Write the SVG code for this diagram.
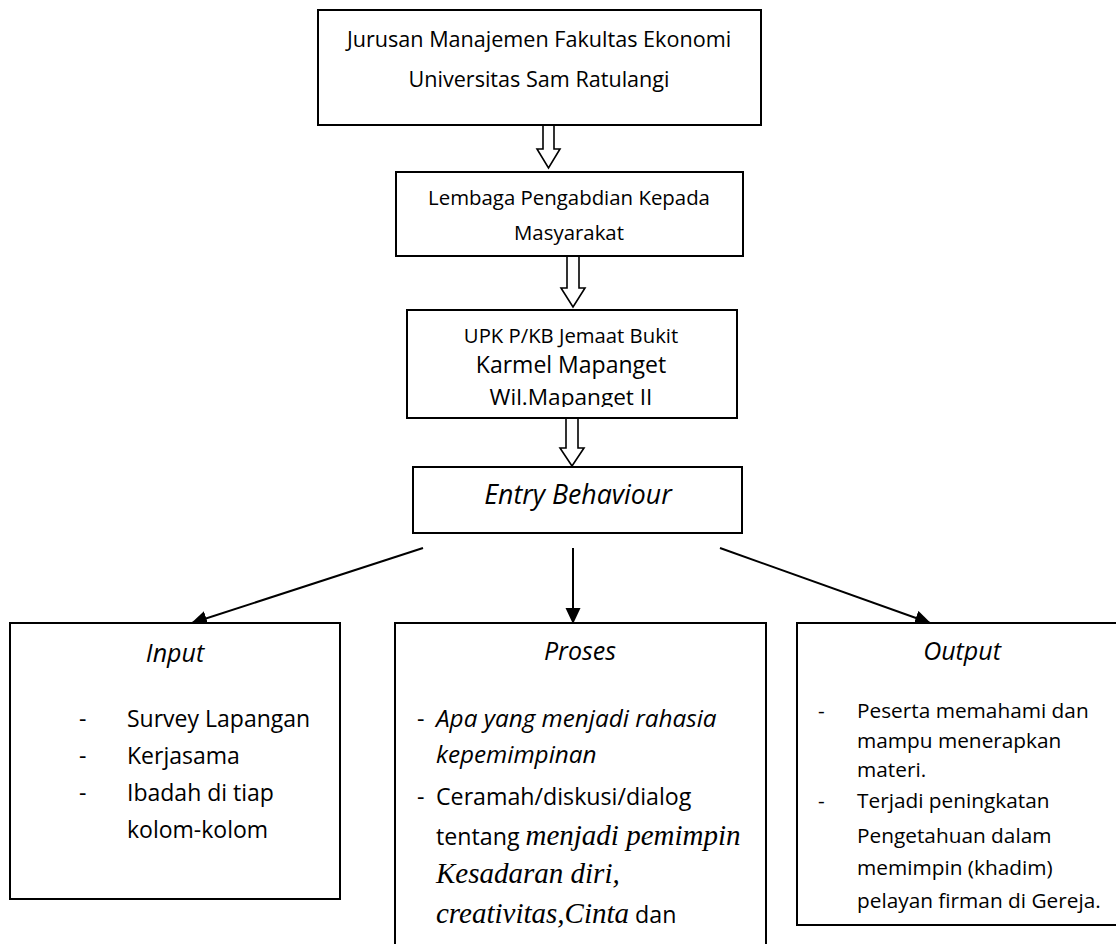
<svg xmlns="http://www.w3.org/2000/svg" width="1116" height="944" viewBox="0 0 1116 944">
<style>
.box{fill:#fff;stroke:#000;stroke-width:2}
.blk{fill:#fff;stroke:#000;stroke-width:1.6;stroke-linejoin:miter}
.ln{stroke:#000;stroke-width:2;fill:none}
.s{font-family:"Open Sans","Liberation Sans",sans-serif;fill:#000}
.i{font-style:italic}
.t{font-family:"Liberation Serif","Times New Roman",serif;font-style:italic;fill:#000}
.c{text-anchor:middle}
</style>
<defs>
<marker id="ah" markerUnits="userSpaceOnUse" markerWidth="16" markerHeight="16" viewBox="0 0 16 16" refX="15" refY="8" orient="auto">
<path d="M0,0.5 L16,8 L0,15.5 Z" fill="#000"/>
</marker>
<clipPath id="clipWil"><rect x="400" y="370" width="340" height="37"/></clipPath>
</defs>

<g id="connectors">
<polygon class="blk" points="543,125 554,125 554,149 560,149 548.5,168 537,149 543,149"/>
<polygon class="blk" points="567,256 579,256 579,288 585,288 573,307 561,288 567,288"/>
<polygon class="blk" points="566,418 578,418 578,448 584,448 572,466 560,448 566,448"/>
<line class="ln" x1="423" y1="548" x2="192" y2="623" marker-end="url(#ah)"/>
<line class="ln" x1="573" y1="548" x2="573" y2="623" marker-end="url(#ah)"/>
<line class="ln" x1="720" y1="548" x2="930" y2="623" marker-end="url(#ah)"/>
</g>

<g id="node-jurusan">
<rect class="box" x="318" y="10" width="443" height="115"/>
<text class="s c" x="539" y="47" font-size="21.6">Jurusan Manajemen Fakultas Ekonomi</text>
<text class="s c" x="539" y="87" font-size="21.6">Universitas Sam Ratulangi</text>
</g>

<g id="node-lembaga">
<rect class="box" x="396" y="172" width="347" height="84"/>
<text class="s c" x="569" y="205" font-size="20.4">Lembaga Pengabdian Kepada</text>
<text class="s c" x="569" y="240" font-size="20.4">Masyarakat</text>
</g>

<g id="node-upk">
<rect class="box" x="407" y="310" width="330" height="108"/>
<text class="s c" x="571" y="343" font-size="20.3">UPK P/KB Jemaat Bukit</text>
<text class="s c" x="571" y="373" font-size="23">Karmel Mapanget</text>
<text class="s c" x="571" y="405" font-size="22.6" clip-path="url(#clipWil)">Wil.Mapanget II</text>
</g>

<g id="node-entry">
<rect class="box" x="413" y="467" width="329" height="66"/>
<text class="s i c" x="578" y="504" font-size="26.7">Entry Behaviour</text>
</g>

<g id="node-input">
<rect class="box" x="10" y="623" width="330" height="276"/>
<text class="s i c" x="175" y="662" font-size="25">Input</text>
<text class="s" x="79" y="727" font-size="23">-</text>
<text class="s" x="127" y="727" font-size="23">Survey Lapangan</text>
<text class="s" x="79" y="764" font-size="23">-</text>
<text class="s" x="127" y="764" font-size="23">Kerjasama</text>
<text class="s" x="79" y="801" font-size="23">-</text>
<text class="s" x="127" y="801" font-size="23">Ibadah di tiap</text>
<text class="s" x="127" y="838" font-size="23">kolom-kolom</text>
</g>

<g id="node-proses">
<rect class="box" x="395" y="623" width="371" height="340"/>
<text class="s i c" x="580" y="660" font-size="25">Proses</text>
<text class="s" x="417" y="727" font-size="23.2">-</text>
<text class="s i" x="436" y="727" font-size="24.3">Apa yang menjadi rahasia</text>
<text class="s i" x="436" y="763" font-size="24.3">kepemimpinan</text>
<text class="s" x="417" y="805" font-size="23.2">-</text>
<text class="s" x="436" y="805" font-size="23.2">Ceramah/diskusi/dialog</text>
<text x="436" y="845"><tspan class="s" font-size="23.2">tentang </tspan><tspan class="t" font-size="29">menjadi pemimpin</tspan></text>
<text class="t" x="436" y="883" font-size="29">Kesadaran diri,</text>
<text x="436" y="923"><tspan class="t" font-size="29">creativitas,Cinta</tspan><tspan class="s" font-size="23.2"> dan</tspan></text>
</g>

<g id="node-output">
<rect class="box" x="797" y="623" width="340" height="302"/>
<text class="s i c" x="962" y="660" font-size="25">Output</text>
<text class="s" x="818" y="718" font-size="20.8">-</text>
<text class="s" x="857" y="718" font-size="20.8">Peserta memahami dan</text>
<text class="s" x="857" y="748" font-size="20.8">mampu menerapkan</text>
<text class="s" x="857" y="777" font-size="20.8">materi.</text>
<text class="s" x="818" y="808" font-size="20.8">-</text>
<text class="s" x="857" y="808" font-size="20.8">Terjadi peningkatan</text>
<text class="s" x="857" y="843" font-size="20.8">Pengetahuan dalam</text>
<text class="s" x="857" y="875" font-size="20.8">memimpin (khadim)</text>
<text class="s" x="857" y="908" font-size="20.8">pelayan firman di Gereja.</text>
</g>
</svg>
